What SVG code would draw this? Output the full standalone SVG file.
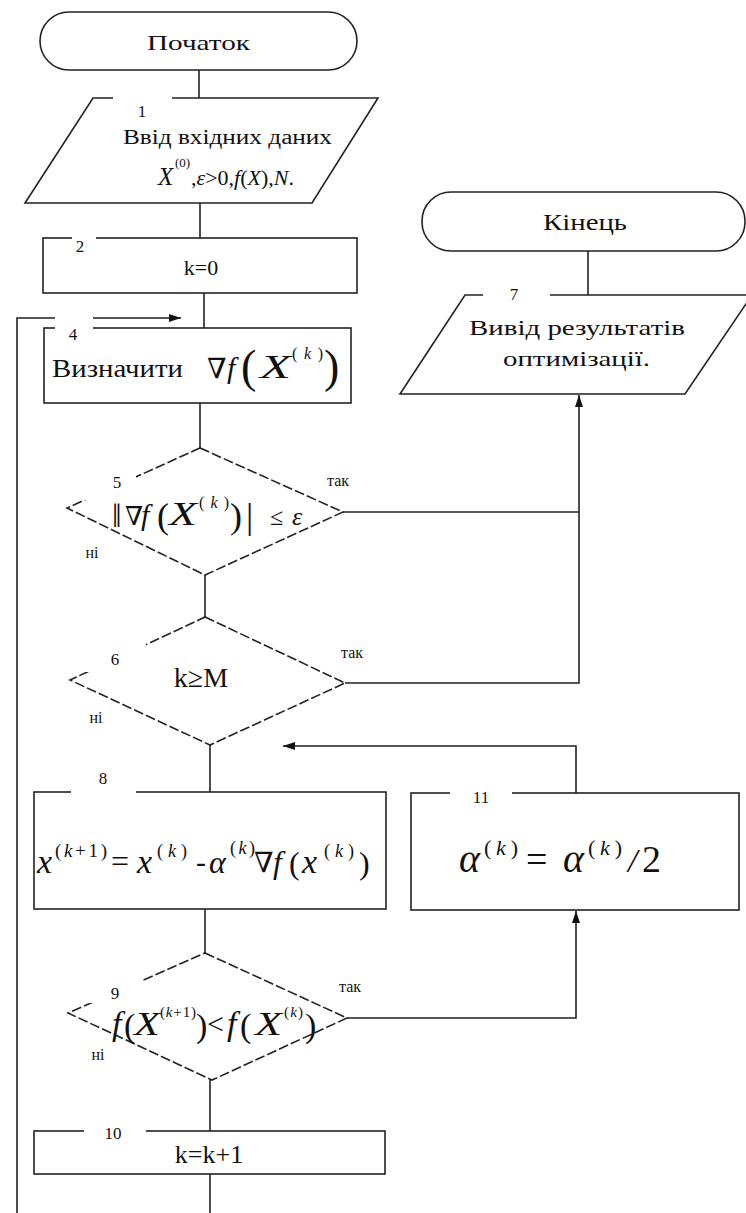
<svg xmlns="http://www.w3.org/2000/svg" width="746" height="1213" viewBox="0 0 746 1213">
<defs>
<style>
.ln{fill:none;stroke:#222;stroke-width:1.6}
.box{fill:#fff;stroke:#222;stroke-width:1.6}
.dia{fill:none;stroke:#222;stroke-width:1.6;stroke-dasharray:10 3}
.msk{fill:#fff;stroke:none}
text{font-family:"Liberation Serif","DejaVu Serif",serif;fill:#111}
.i{font-style:italic}
.lbl{font-size:17px;text-anchor:middle}
.yn{font-size:16px;text-anchor:middle}
</style>
<marker id="ar" viewBox="0 0 12 8" refX="12" refY="4" markerWidth="12" markerHeight="8" markerUnits="userSpaceOnUse" orient="auto">
<path d="M0,0 L12,4 L0,8 Z" fill="#111"/>
</marker>
</defs>
<rect width="746" height="1213" fill="#fff"/>
<g id="connectors">
<path class="ln" d="M199,70 V98"/>
<path class="ln" d="M200,203 V238"/>
<path class="ln" d="M204,293 V328"/>
<path class="ln" d="M200,403 V448"/>
<path class="ln" d="M205,575 V617"/>
<path class="ln" d="M210,745 V792"/>
<path class="ln" d="M205,909 V953"/>
<path class="ln" d="M210,1080 V1131"/>
<path class="ln" d="M210,1174 V1213"/>
<path class="ln" d="M17,1213 V318 H181" marker-end="url(#ar)"/>
<path class="ln" d="M343,512 H579"/>
<path class="ln" d="M345,683 H579 V395" marker-end="url(#ar)"/>
<path class="ln" d="M347,1018 H576 V911" marker-end="url(#ar)"/>
<path class="ln" d="M576,793 V746 H283" marker-end="url(#ar)"/>
<path class="ln" d="M588,251 V295"/>
</g>
<g id="start">
<rect class="box" x="40" y="12" width="317" height="58" rx="29"/>
<text x="147" y="50" font-size="22" textLength="103" lengthAdjust="spacingAndGlyphs">Початок</text>
</g>
<g id="n1">
<polygon class="box" points="93,98 378,98 312,203 25,203"/>
<rect class="msk" x="113" y="92" width="59" height="12"/>
<text class="lbl" x="142" y="117" font-size="15">1</text>
<text x="123" y="144" font-size="20" textLength="209" lengthAdjust="spacingAndGlyphs">Ввід вхідних даних</text>
<text class="i" x="158" y="185" font-size="25">X</text>
<text x="175" y="167" font-size="13">(0)</text>
<text x="191" y="185" font-size="22">,<tspan class="i">ε</tspan>&gt;0,<tspan class="i">f</tspan>(<tspan class="i">X</tspan>),<tspan class="i">N</tspan>.</text>
</g>
<g id="n2">
<rect class="box" x="43" y="238" width="314" height="55"/>
<rect class="msk" x="72" y="232" width="24" height="12"/>
<text class="lbl" x="80" y="252" font-size="18">2</text>
<text x="201" y="275" font-size="22" text-anchor="middle">k=0</text>
</g>
<g id="n4">
<rect class="box" x="44" y="328" width="307" height="75"/>
<rect class="msk" x="55" y="312" width="38" height="22"/>
<text class="lbl" x="73" y="340" font-size="17">4</text>
<text x="52" y="377" font-size="25" textLength="131" lengthAdjust="spacingAndGlyphs">Визначити</text>
<text x="207" y="378" font-size="28">∇</text>
<text class="i" x="227" y="378" font-size="30">f</text>
<text x="241" y="382" font-size="46">(</text>
<text class="i" x="260" y="378" font-size="34" textLength="31" lengthAdjust="spacingAndGlyphs">X</text>
<text x="292" y="359" font-size="16" textLength="31" lengthAdjust="spacing">(<tspan class="i">k</tspan>)</text>
<text x="324" y="382" font-size="46">)</text>
</g>
<g id="n5">
<polygon class="dia" points="200,448 343,512 205,575 67,508"/>
<rect class="msk" x="84" y="472" width="52" height="28"/>
<text class="lbl" x="117" y="488" font-size="16">5</text>
<text x="112" y="527" font-size="34">‖</text>
<text x="125" y="525" font-size="26">∇</text>
<text class="i" x="141" y="525" font-size="30">f</text>
<text x="157" y="528" font-size="36">(</text>
<text class="i" x="169" y="525" font-size="34" textLength="28" lengthAdjust="spacingAndGlyphs">X</text>
<text x="199" y="508" font-size="16" textLength="30" lengthAdjust="spacing">(<tspan class="i">k</tspan>)</text>
<text x="230" y="528" font-size="36">)</text>
<text x="246" y="528" font-size="36">|</text>
<text x="270" y="525" font-size="24">≤</text>
<text class="i" x="292" y="525" font-size="26">ε</text>
<text class="yn" x="338" y="486">так</text>
<text class="yn" x="92" y="558">ні</text>
</g>
<g id="n6">
<polygon class="dia" points="205,617 345,683 210,745 70,680"/>
<rect class="msk" x="84" y="642" width="62" height="30"/>
<text class="lbl" x="115" y="665" font-size="18">6</text>
<text x="201" y="687" font-size="28" text-anchor="middle">k≥M</text>
<text class="yn" x="352" y="658">так</text>
<text class="yn" x="96" y="723">ні</text>
</g>
<g id="n7">
<polygon class="box" points="465,295 752,295 685,394 400,394"/>
<rect class="msk" x="483" y="289" width="67" height="12"/>
<text class="lbl" x="514" y="300" font-size="17">7</text>
<text x="469" y="335" font-size="22" textLength="216" lengthAdjust="spacingAndGlyphs">Вивід результатів</text>
<text x="503" y="366" font-size="22" textLength="147" lengthAdjust="spacingAndGlyphs">оптимізації.</text>
</g>
<g id="end">
<rect class="box" x="422" y="192" width="323" height="59" rx="29"/>
<text x="543" y="230" font-size="24" textLength="84" lengthAdjust="spacingAndGlyphs">Кінець</text>
</g>
<g id="n8">
<rect class="box" x="34" y="792" width="352" height="117"/>
<rect class="msk" x="71" y="786" width="65" height="12"/>
<text class="lbl" x="103" y="784" font-size="17">8</text>
<text class="i" x="37" y="873" font-size="34">x</text>
<text x="55" y="857" font-size="19" textLength="52" lengthAdjust="spacing">(<tspan class="i">k</tspan>+1)</text>
<text x="111" y="872" font-size="32">=</text>
<text class="i" x="137" y="873" font-size="34">x</text>
<text x="157" y="857" font-size="18" textLength="30" lengthAdjust="spacing">(<tspan class="i">k</tspan>)</text>
<text x="196" y="872" font-size="30">-</text>
<text class="i" x="209" y="873" font-size="32">α</text>
<text x="230" y="854" font-size="18" textLength="25" lengthAdjust="spacing">(<tspan class="i">k</tspan>)</text>
<text x="254" y="872" font-size="28">∇</text>
<text class="i" x="273" y="873" font-size="32">f</text>
<text x="289" y="874" font-size="32">(</text>
<text class="i" x="302" y="873" font-size="34">x</text>
<text x="324" y="857" font-size="18" textLength="30" lengthAdjust="spacing">(<tspan class="i">k</tspan>)</text>
<text x="359" y="874" font-size="32">)</text>
</g>
<g id="n11">
<rect class="box" x="411" y="793" width="328" height="117"/>
<rect class="msk" x="450" y="787" width="62" height="12"/>
<text class="lbl" x="481" y="803" font-size="17">11</text>
<text class="i" x="459" y="872" font-size="40">α</text>
<text x="484" y="855" font-size="22" textLength="34" lengthAdjust="spacing">(<tspan class="i">k</tspan>)</text>
<text x="526" y="872" font-size="38">=</text>
<text class="i" x="563" y="872" font-size="40">α</text>
<text x="588" y="855" font-size="22" textLength="34" lengthAdjust="spacing">(<tspan class="i">k</tspan>)</text>
<text class="i" x="628" y="872" font-size="34">/</text>
<text x="642" y="872" font-size="38">2</text>
</g>
<g id="n9">
<polygon class="dia" points="205,953 347,1018 212,1080 68,1013"/>
<rect class="msk" x="88" y="978" width="54" height="25"/>
<text class="lbl" x="115" y="999" font-size="17">9</text>
<text class="i" x="112" y="1035" font-size="34">f</text>
<text x="124" y="1037" font-size="34">(</text>
<text class="i" x="134" y="1035" font-size="34" textLength="26" lengthAdjust="spacingAndGlyphs">X</text>
<text x="160" y="1017" font-size="15" textLength="36" lengthAdjust="spacing">(<tspan class="i">k</tspan>+1)</text>
<text x="196" y="1037" font-size="34">)</text>
<text x="207" y="1034" font-size="30">&lt;</text>
<text class="i" x="227" y="1035" font-size="34">f</text>
<text x="240" y="1037" font-size="34">(</text>
<text class="i" x="255" y="1035" font-size="34" textLength="27" lengthAdjust="spacingAndGlyphs">X</text>
<text x="284" y="1017" font-size="15" textLength="19" lengthAdjust="spacing">(<tspan class="i">k</tspan>)</text>
<text x="305" y="1037" font-size="34">)</text>
<text class="yn" x="350" y="992">так</text>
<text class="yn" x="98" y="1060">ні</text>
</g>
<g id="n10">
<rect class="box" x="34" y="1131" width="351" height="43"/>
<rect class="msk" x="84" y="1125" width="62" height="12"/>
<text class="lbl" x="113" y="1139" font-size="17">10</text>
<text x="209" y="1163" font-size="26" text-anchor="middle">k=k+1</text>
</g>
</svg>
